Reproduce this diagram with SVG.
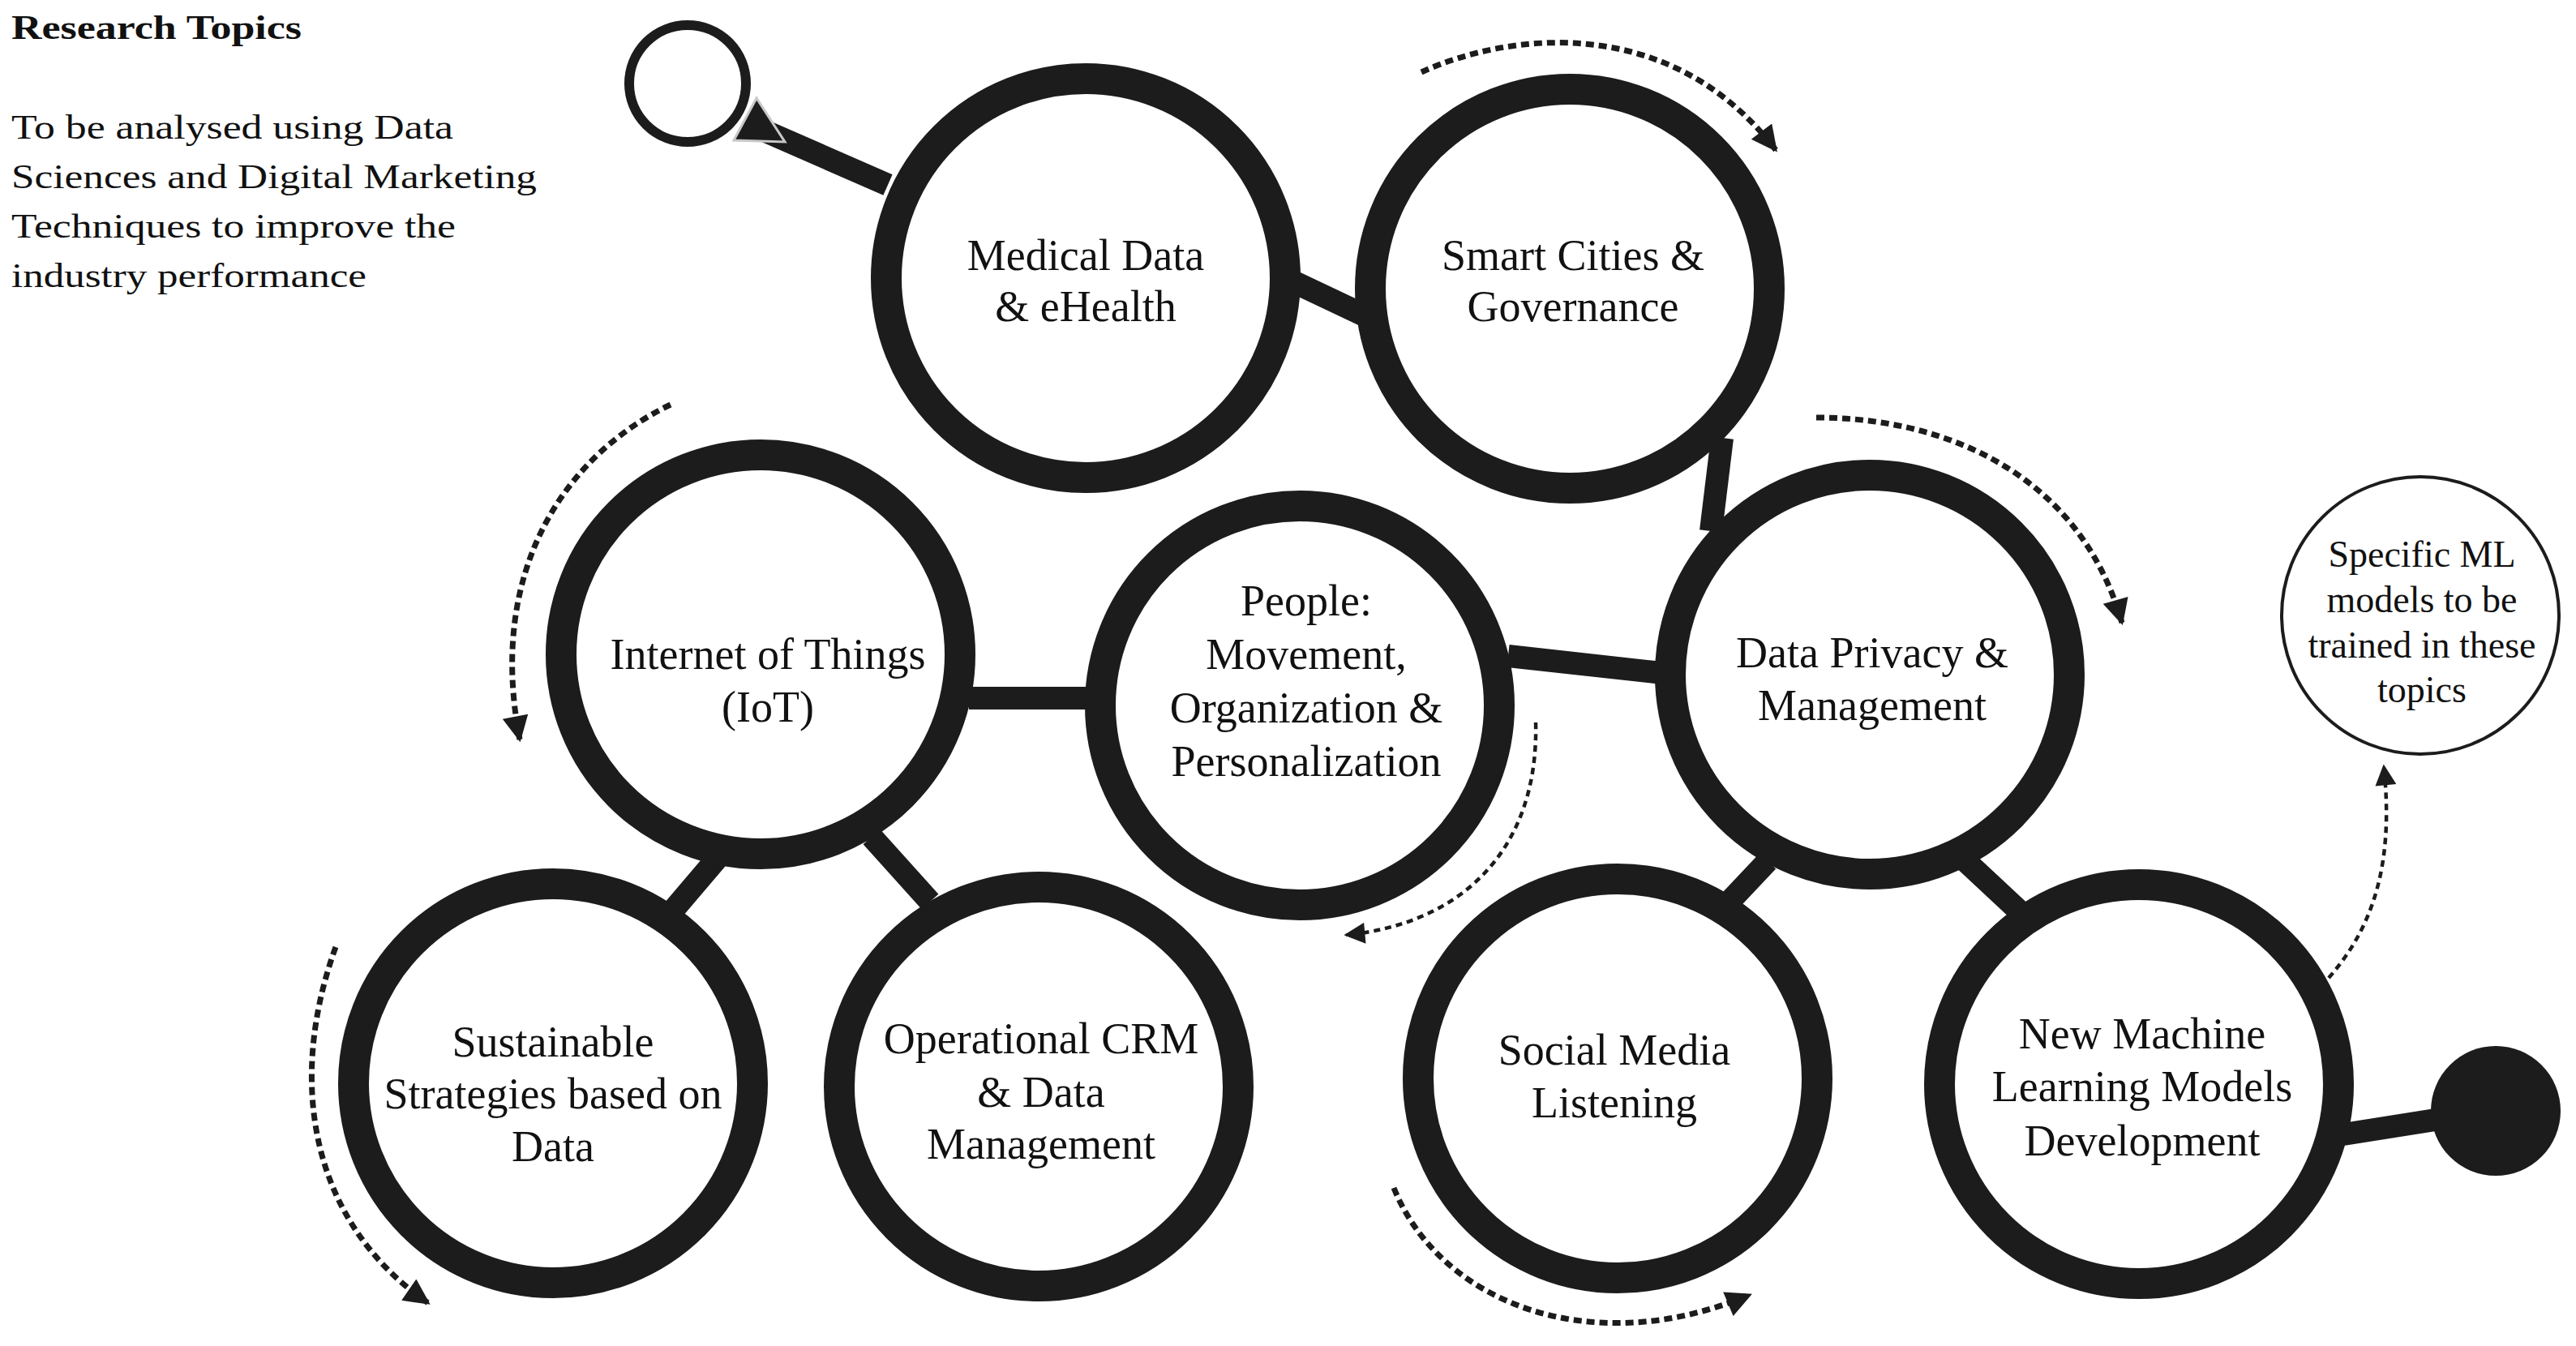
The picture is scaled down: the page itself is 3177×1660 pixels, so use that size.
<svg xmlns="http://www.w3.org/2000/svg" width="3177" height="1660" viewBox="0 0 3177 1660">
<style>
.bg{fill:#ffffff}
.ring{fill:#ffffff;stroke:#1c1c1c;stroke-width:38}
.bar{stroke:#1c1c1c;stroke-width:28;stroke-linecap:butt;fill:none}
.lbl{font-family:"Liberation Serif","Times New Roman",serif;font-size:54px;fill:#111;text-anchor:middle}
.small{font-family:"Liberation Serif","Times New Roman",serif;font-size:46px;fill:#111;text-anchor:middle}
.intro{font-family:"Liberation Serif","Times New Roman",serif;font-size:43px;fill:#111}
.dots{fill:none;stroke:#1c1c1c;stroke-width:7;stroke-dasharray:10 6}
.dots-fine{fill:none;stroke:#1c1c1c;stroke-width:4.5;stroke-dasharray:8 6}
</style>
<defs>
<marker id="ah" viewBox="0 0 10 10" markerUnits="userSpaceOnUse" markerWidth="36" markerHeight="32" refX="9" refY="5" orient="auto">
<path d="M0,0 L10,5 L0,10 z" fill="#1c1c1c"/>
</marker>
<marker id="ahs" viewBox="0 0 10 10" markerUnits="userSpaceOnUse" markerWidth="30" markerHeight="26" refX="9" refY="5" orient="auto">
<path d="M0,0 L10,5 L0,10 z" fill="#1c1c1c"/>
</marker>
</defs>
<rect class="bg" x="0" y="0" width="3177" height="1660"/>

<g id="intro">
<text class="intro" x="14" y="48" font-weight="bold" textLength="358" lengthAdjust="spacingAndGlyphs">Research Topics</text>
<text class="intro" x="14" y="171" textLength="545" lengthAdjust="spacingAndGlyphs">To be analysed using Data</text>
<text class="intro" x="14" y="232" textLength="648" lengthAdjust="spacingAndGlyphs">Sciences and Digital Marketing</text>
<text class="intro" x="14" y="293" textLength="548" lengthAdjust="spacingAndGlyphs">Techniques to improve the</text>
<text class="intro" x="14" y="354" textLength="438" lengthAdjust="spacingAndGlyphs">industry performance</text>
</g>

<g id="connectors">
<line class="bar" x1="935" y1="158" x2="1095" y2="228"/>
<line class="bar" x1="1590" y1="345" x2="1685" y2="390"/>
<line class="bar" x1="2124" y1="540" x2="2110" y2="655"/>
<line class="bar" x1="1860" y1="809" x2="2050" y2="830"/>
<line class="bar" x1="1195" y1="861" x2="1350" y2="861"/>
<line class="bar" x1="885" y1="1058" x2="828" y2="1125"/>
<line class="bar" x1="1075" y1="1032" x2="1147" y2="1112"/>
<line class="bar" x1="2180" y1="1062" x2="2130" y2="1115"/>
<line class="bar" x1="2420" y1="1058" x2="2495" y2="1128"/>
<line class="bar" x1="2890" y1="1399" x2="3010" y2="1380"/>
<path class="dots" d="M1753,89 C1860,40 2060,15 2190,185" marker-end="url(#ah)"/>
<path class="dots" d="M2240,515 C2400,515 2565,585 2617,768" marker-end="url(#ah)"/>
<path class="dots" d="M827,499 C700,560 600,700 641,912" marker-end="url(#ah)"/>
<path class="dots" d="M414,1168 C355,1330 380,1505 528,1607" marker-end="url(#ah)"/>
<path class="dots-fine" d="M1894,891 C1898,1050 1800,1140 1660,1153" marker-end="url(#ahs)"/>
<path class="dots" d="M1719,1465 C1775,1605 1960,1680 2158,1597" marker-end="url(#ah)"/>
<path class="dots-fine" d="M2872,1206 C2930,1140 2952,1060 2940,945" marker-end="url(#ahs)"/>
</g>

<g id="start">
<circle cx="848" cy="103" r="72" fill="#ffffff" stroke="#1c1c1c" stroke-width="12"/>
<polygon points="933,121 905,173 968,175" fill="#1c1c1c" stroke="#c8c8c8" stroke-width="3"/>
</g>

<g id="medical">
<circle class="ring" cx="1339" cy="343" r="246"/>
<text class="lbl" x="1339" y="333">Medical Data</text>
<text class="lbl" x="1339" y="396">&amp; eHealth</text>
</g>

<g id="smart">
<circle class="ring" cx="1936" cy="356" r="246"/>
<text class="lbl" x="1940" y="333">Smart Cities &amp;</text>
<text class="lbl" x="1940" y="396">Governance</text>
</g>

<g id="privacy">
<circle class="ring" cx="2306" cy="832" r="246"/>
<text class="lbl" x="2309" y="823">Data Privacy &amp;</text>
<text class="lbl" x="2309" y="888">Management</text>
</g>

<g id="people">
<circle class="ring" cx="1603" cy="870" r="246"/>
<text class="lbl" x="1611" y="759">People:</text>
<text class="lbl" x="1611" y="825">Movement,</text>
<text class="lbl" x="1611" y="891">Organization &amp;</text>
<text class="lbl" x="1611" y="957">Personalization</text>
</g>

<g id="iot">
<circle class="ring" cx="938" cy="807" r="246"/>
<text class="lbl" x="947" y="825">Internet of Things</text>
<text class="lbl" x="947" y="890">(IoT)</text>
</g>

<g id="sustainable">
<circle class="ring" cx="682" cy="1336" r="246"/>
<text class="lbl" x="682" y="1303">Sustainable</text>
<text class="lbl" x="682" y="1367">Strategies based on</text>
<text class="lbl" x="682" y="1432">Data</text>
</g>

<g id="operational">
<circle class="ring" cx="1281" cy="1340" r="246"/>
<text class="lbl" x="1284" y="1299">Operational CRM</text>
<text class="lbl" x="1284" y="1365">&amp; Data</text>
<text class="lbl" x="1284" y="1429">Management</text>
</g>

<g id="social">
<circle class="ring" cx="1995" cy="1330" r="246"/>
<text class="lbl" x="1991" y="1313">Social Media</text>
<text class="lbl" x="1991" y="1378">Listening</text>
</g>

<g id="newml">
<circle class="ring" cx="2638" cy="1337" r="246"/>
<text class="lbl" x="2642" y="1293">New Machine</text>
<text class="lbl" x="2642" y="1358">Learning Models</text>
<text class="lbl" x="2642" y="1425">Development</text>
</g>

<g id="specific">
<circle cx="2985" cy="759" r="171" fill="#ffffff" stroke="#1c1c1c" stroke-width="4"/>
<text class="small" x="2987" y="699">Specific ML</text>
<text class="small" x="2987" y="755">models to be</text>
<text class="small" x="2987" y="811">trained in these</text>
<text class="small" x="2987" y="866">topics</text>
</g>

<g id="end">
<circle cx="3078" cy="1370" r="80" fill="#1c1c1c"/>
</g>
</svg>
